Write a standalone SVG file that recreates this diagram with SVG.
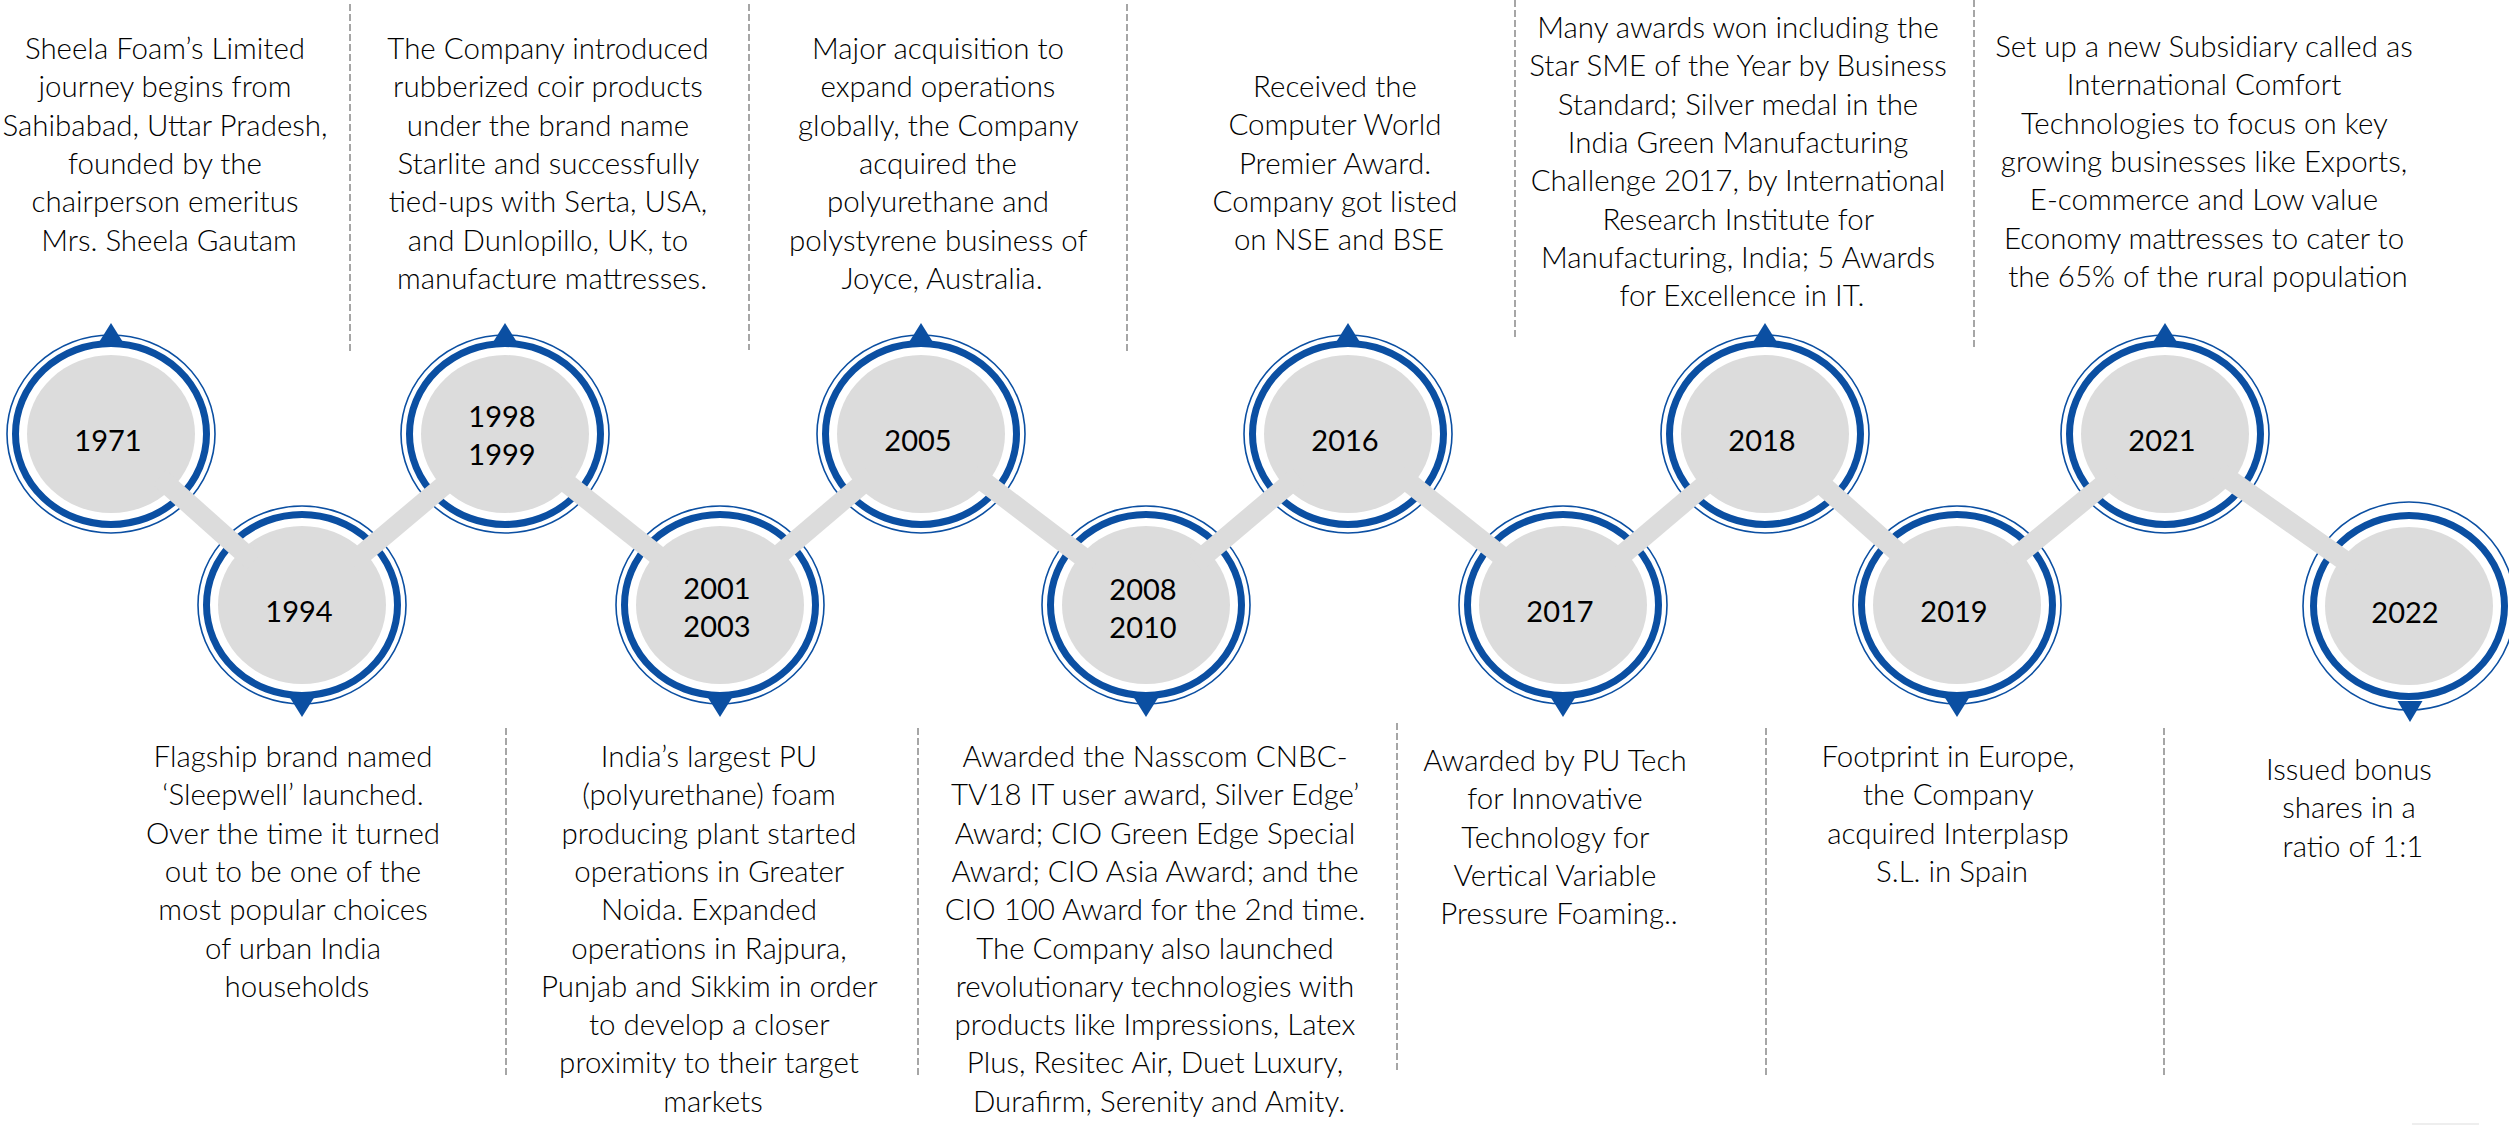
<svg xmlns="http://www.w3.org/2000/svg" xmlns:xlink="http://www.w3.org/1999/xlink" width="2509" height="1125" viewBox="0 0 2509 1125">
  <style>
    .thin { fill: none; stroke: #0B4FA2; stroke-width: 1.6; }
    .thick { fill: none; stroke: #0B4FA2; stroke-width: 7; }
    .disc { fill: #DCDCDC; }
    .tri { fill: #0B4FA2; }
    .yr { font-family: Lato, "Liberation Sans", sans-serif; font-size: 29px; fill: #000; text-anchor: middle; }
    .desc { font-family: Lato, "Liberation Sans", sans-serif; font-weight: 300; font-size: 29.5px; fill: #000; text-anchor: middle; }
    .band { stroke: #DCDCDC; stroke-width: 20; fill: none; stroke-linecap: butt; }
    .sep { stroke: #A6A6A6; stroke-width: 2; stroke-dasharray: 7 3; fill: none; }
  </style>
  <defs>
    <!-- medallion centred on 0,0: outer hairline, heavy ring, grey disc -->
    <g id="medal">
      <ellipse class="thin" cx="0" cy="0" rx="104" ry="99"/>
      <ellipse class="thick" cx="0" cy="0" rx="95.5" ry="90.5"/>
      <ellipse class="disc" cx="0" cy="0" rx="84" ry="79"/>
    </g>
    <path id="tri-up" class="tri" d="M0,-111 L12.5,-91 L-12.5,-91 Z"/>
    <path id="tri-down" class="tri" d="M0,112 L12.5,92 L-12.5,92 Z"/>
  </defs>

  <rect x="0" y="0" width="2509" height="1125" fill="#FFFFFF"/>

  <!-- dashed separators between description columns -->
  <g id="separators">
    <line class="sep" x1="350" y1="4" x2="350" y2="352"/>
    <line class="sep" x1="749" y1="4" x2="749" y2="350"/>
    <line class="sep" x1="1127" y1="4" x2="1127" y2="352"/>
    <line class="sep" x1="1515" y1="0" x2="1515" y2="338"/>
    <line class="sep" x1="1974" y1="0" x2="1974" y2="347"/>
    <line class="sep" x1="506" y1="728" x2="506" y2="1075"/>
    <line class="sep" x1="918" y1="728" x2="918" y2="1075"/>
    <line class="sep" x1="1397" y1="723" x2="1397" y2="1070"/>
    <line class="sep" x1="1766" y1="728" x2="1766" y2="1075"/>
    <line class="sep" x1="2164" y1="728" x2="2164" y2="1075"/>
  </g>

  <!-- upper milestones -->
  <g id="node-1971">
    <use xlink:href="#medal" x="111" y="434"/>
    <use xlink:href="#tri-up" x="111" y="434"/>
    <text class="yr" x="108" y="451">1971</text>
    <text class="desc" x="169" y="59">
      <tspan x="169" dy="0">Sheela Foam’s Limited</tspan>
      <tspan x="169" dy="38.3">journey begins from</tspan>
      <tspan x="169" dy="38.3">Sahibabad, Uttar Pradesh,</tspan>
      <tspan x="169" dy="38.3">founded by the</tspan>
      <tspan x="169" dy="38.3">chairperson emeritus</tspan>
      <tspan x="169" dy="38.3">Mrs. Sheela Gautam</tspan>
    </text>
  </g>

  <g id="node-1998-1999">
    <use xlink:href="#medal" x="505" y="434"/>
    <use xlink:href="#tri-up" x="505" y="434"/>
    <text class="yr" x="502" y="427">1998</text>
    <text class="yr" x="502" y="465">1999</text>
    <text class="desc" x="552" y="59">
      <tspan x="552" dy="0">The Company introduced</tspan>
      <tspan x="552" dy="38.3">rubberized coir products</tspan>
      <tspan x="552" dy="38.3">under the brand name</tspan>
      <tspan x="552" dy="38.3">Starlite and successfully</tspan>
      <tspan x="552" dy="38.3">tied-ups with Serta, USA,</tspan>
      <tspan x="552" dy="38.3">and Dunlopillo, UK, to</tspan>
      <tspan x="552" dy="38.3">manufacture mattresses.</tspan>
    </text>
  </g>

  <g id="node-2005">
    <use xlink:href="#medal" x="921" y="434"/>
    <use xlink:href="#tri-up" x="921" y="434"/>
    <text class="yr" x="918" y="451">2005</text>
    <text class="desc" x="942" y="59">
      <tspan x="942" dy="0">Major acquisition to</tspan>
      <tspan x="942" dy="38.3">expand operations</tspan>
      <tspan x="942" dy="38.3">globally, the Company</tspan>
      <tspan x="942" dy="38.3">acquired the</tspan>
      <tspan x="942" dy="38.3">polyurethane and</tspan>
      <tspan x="942" dy="38.3">polystyrene business of</tspan>
      <tspan x="942" dy="38.3">Joyce, Australia.</tspan>
    </text>
  </g>

  <g id="node-2016">
    <use xlink:href="#medal" x="1348" y="434"/>
    <use xlink:href="#tri-up" x="1348" y="434"/>
    <text class="yr" x="1345" y="451">2016</text>
    <text class="desc" x="1339" y="97">
      <tspan x="1339" dy="0">Received the</tspan>
      <tspan x="1339" dy="38.3">Computer World</tspan>
      <tspan x="1339" dy="38.3">Premier Award.</tspan>
      <tspan x="1339" dy="38.3">Company got listed</tspan>
      <tspan x="1339" dy="38.3">on NSE and BSE</tspan>
    </text>
  </g>

  <g id="node-2018">
    <use xlink:href="#medal" x="1765" y="434"/>
    <use xlink:href="#tri-up" x="1765" y="434"/>
    <text class="yr" x="1762" y="451">2018</text>
    <text class="desc" x="1742" y="38">
      <tspan x="1742" dy="0">Many awards won including the</tspan>
      <tspan x="1742" dy="38.3">Star SME of the Year by Business</tspan>
      <tspan x="1742" dy="38.3">Standard; Silver medal in the</tspan>
      <tspan x="1742" dy="38.3">India Green Manufacturing</tspan>
      <tspan x="1742" dy="38.3">Challenge 2017, by International</tspan>
      <tspan x="1742" dy="38.3">Research Institute for</tspan>
      <tspan x="1742" dy="38.3">Manufacturing, India; 5 Awards</tspan>
      <tspan x="1742" dy="38.3">for Excellence in IT.</tspan>
    </text>
  </g>

  <g id="node-2021">
    <use xlink:href="#medal" x="2165" y="434"/>
    <use xlink:href="#tri-up" x="2165" y="434"/>
    <text class="yr" x="2162" y="451">2021</text>
    <text class="desc" x="2208" y="57">
      <tspan x="2208" dy="0">Set up a new Subsidiary called as</tspan>
      <tspan x="2208" dy="38.3">International Comfort</tspan>
      <tspan x="2208" dy="38.3">Technologies to focus on key</tspan>
      <tspan x="2208" dy="38.3">growing businesses like Exports,</tspan>
      <tspan x="2208" dy="38.3">E-commerce and Low value</tspan>
      <tspan x="2208" dy="38.3">Economy mattresses to cater to</tspan>
      <tspan x="2208" dy="38.3">the 65% of the rural population</tspan>
    </text>
  </g>

  <!-- lower milestones -->
  <g id="node-1994">
    <use xlink:href="#medal" x="302" y="605"/>
    <use xlink:href="#tri-down" x="302" y="605"/>
    <text class="yr" x="299" y="622">1994</text>
    <text class="desc" x="297" y="767">
      <tspan x="297" dy="0">Flagship brand named</tspan>
      <tspan x="297" dy="38.3">‘Sleepwell’ launched.</tspan>
      <tspan x="297" dy="38.3">Over the time it turned</tspan>
      <tspan x="297" dy="38.3">out to be one of the</tspan>
      <tspan x="297" dy="38.3">most popular choices</tspan>
      <tspan x="297" dy="38.3">of urban India</tspan>
      <tspan x="297" dy="38.3">households</tspan>
    </text>
  </g>

  <g id="node-2001-2003">
    <use xlink:href="#medal" x="720" y="605"/>
    <use xlink:href="#tri-down" x="720" y="605"/>
    <text class="yr" x="717" y="599">2001</text>
    <text class="yr" x="717" y="637">2003</text>
    <text class="desc" x="713" y="767">
      <tspan x="713" dy="0">India’s largest PU</tspan>
      <tspan x="713" dy="38.3">(polyurethane) foam</tspan>
      <tspan x="713" dy="38.3">producing plant started</tspan>
      <tspan x="713" dy="38.3">operations in Greater</tspan>
      <tspan x="713" dy="38.3">Noida. Expanded</tspan>
      <tspan x="713" dy="38.3">operations in Rajpura,</tspan>
      <tspan x="713" dy="38.3">Punjab and Sikkim in order</tspan>
      <tspan x="713" dy="38.3">to develop a closer</tspan>
      <tspan x="713" dy="38.3">proximity to their target</tspan>
      <tspan x="713" dy="38.3">markets</tspan>
    </text>
  </g>

  <g id="node-2008-2010">
    <use xlink:href="#medal" x="1146" y="605"/>
    <use xlink:href="#tri-down" x="1146" y="605"/>
    <text class="yr" x="1143" y="600">2008</text>
    <text class="yr" x="1143" y="638">2010</text>
    <text class="desc" x="1159" y="767">
      <tspan x="1159" dy="0">Awarded the Nasscom CNBC-</tspan>
      <tspan x="1159" dy="38.3">TV18 IT user award, Silver Edge’</tspan>
      <tspan x="1159" dy="38.3">Award; CIO Green Edge Special</tspan>
      <tspan x="1159" dy="38.3">Award; CIO Asia Award; and the</tspan>
      <tspan x="1159" dy="38.3">CIO 100 Award for the 2nd time.</tspan>
      <tspan x="1159" dy="38.3">The Company also launched</tspan>
      <tspan x="1159" dy="38.3">revolutionary technologies with</tspan>
      <tspan x="1159" dy="38.3">products like Impressions, Latex</tspan>
      <tspan x="1159" dy="38.3">Plus, Resitec Air, Duet Luxury,</tspan>
      <tspan x="1159" dy="38.3">Durafirm, Serenity and Amity.</tspan>
    </text>
  </g>

  <g id="node-2017">
    <use xlink:href="#medal" x="1563" y="605"/>
    <use xlink:href="#tri-down" x="1563" y="605"/>
    <text class="yr" x="1560" y="622">2017</text>
    <text class="desc" x="1559" y="771">
      <tspan x="1559" dy="0">Awarded by PU Tech</tspan>
      <tspan x="1559" dy="38.3">for Innovative</tspan>
      <tspan x="1559" dy="38.3">Technology for</tspan>
      <tspan x="1559" dy="38.3">Vertical Variable</tspan>
      <tspan x="1559" dy="38.3">Pressure Foaming..</tspan>
    </text>
  </g>

  <g id="node-2019">
    <use xlink:href="#medal" x="1957" y="605"/>
    <use xlink:href="#tri-down" x="1957" y="605"/>
    <text class="yr" x="1954" y="622">2019</text>
    <text class="desc" x="1952" y="767">
      <tspan x="1952" dy="0">Footprint in Europe,</tspan>
      <tspan x="1952" dy="38.3">the Company</tspan>
      <tspan x="1952" dy="38.3">acquired Interplasp</tspan>
      <tspan x="1952" dy="38.3">S.L. in Spain</tspan>
    </text>
  </g>

  <g id="node-2022">
    <ellipse class="thin" cx="2409" cy="606" rx="106" ry="104"/>
    <ellipse class="thick" cx="2409" cy="606" rx="95.5" ry="90.5"/>
    <ellipse class="disc" cx="2409" cy="606" rx="84" ry="79"/>
    <path class="tri" d="M2410,722 L2422.5,701 L2397.5,701 Z"/>
    <text class="yr" x="2405" y="623">2022</text>
    <text class="desc" x="2353" y="780">
      <tspan x="2353" dy="0">Issued bonus</tspan>
      <tspan x="2353" dy="38.3">shares in a</tspan>
      <tspan x="2353" dy="38.3">ratio of 1:1</tspan>
    </text>
  </g>

  <!-- grey zig-zag track joining the discs (ends stop inside each disc) -->
  <g id="connectors">
    <line class="band" x1="159.4" y1="477.4" x2="253.6" y2="561.6"/>
    <line class="band" x1="351.7" y1="563.1" x2="455.3" y2="475.9"/>
    <line class="band" x1="555.9" y1="474.5" x2="669.1" y2="564.5"/>
    <line class="band" x1="769.5" y1="562.9" x2="871.5" y2="476.1"/>
    <line class="band" x1="972.8" y1="473.3" x2="1094.2" y2="565.7"/>
    <line class="band" x1="1195.6" y1="563" x2="1298.4" y2="476"/>
    <line class="band" x1="1398.9" y1="474.5" x2="1512.1" y2="564.5"/>
    <line class="band" x1="1612.6" y1="563" x2="1715.4" y2="476"/>
    <line class="band" x1="1813.5" y1="477.2" x2="1908.5" y2="561.8"/>
    <line class="band" x1="2007.2" y1="563.7" x2="2114.8" y2="475.3"/>
    <line class="band" x1="2218.1" y1="471.5" x2="2355.9" y2="568.5"/>
  </g>

  <line x1="2412" y1="1124" x2="2479" y2="1124" stroke="#E8E8E8" stroke-width="1.5"/>
</svg>
